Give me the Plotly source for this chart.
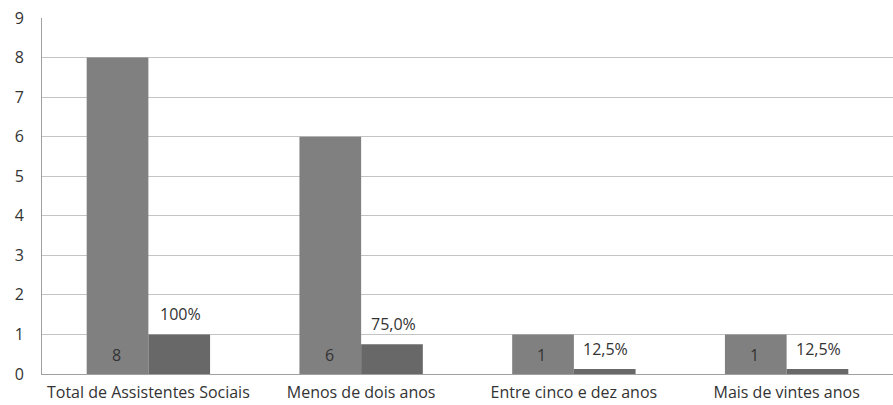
import plotly.graph_objects as go

categories = ["Total de Assistentes Sociais", "Menos de dois anos", "Entre cinco e dez anos", "Mais de vintes anos"]
counts = [8, 6, 1, 1]
proportions = [1.0, 0.75, 0.125, 0.125]
pct_labels = ["100%", "75,0%", "12,5%", "12,5%"]
y_ticks = [0, 1, 2, 3, 4, 5, 6, 7, 8, 9]

FONT = "'Open Sans', sans-serif"
TXT = "#333333"

fig = go.Figure()
fig.add_trace(go.Bar(x=categories, y=counts, marker=dict(color="#808080", line=dict(width=0)),
                     name="N", showlegend=False))
fig.add_trace(go.Bar(x=categories, y=proportions, marker=dict(color="#686868", line=dict(width=0)),
                     name="%", showlegend=False))

for c, v in zip(categories, counts):
    fig.add_annotation(x=c, y=0, text=str(v), showarrow=False, xshift=-32, yshift=19,
                       font=dict(family=FONT, size=16, color=TXT))
for c, v, t in zip(categories, proportions, pct_labels):
    fig.add_annotation(x=c, y=v, text=t, showarrow=False, xshift=32, yshift=20,
                       font=dict(family=FONT, size=16, color=TXT))

fig.update_layout(
    width=893, height=405,
    margin=dict(l=42, r=0, t=18, b=31),
    paper_bgcolor="white", plot_bgcolor="white",
    barmode="group", bargap=0.42, bargroupgap=0,
    font=dict(family=FONT, size=16, color=TXT),
)
fig.update_xaxes(showgrid=False, showline=True, linecolor="#a0a0a0", linewidth=1,
                 ticks="outside", ticklen=4, tickcolor="rgba(0,0,0,0)", tickfont=dict(size=16))
fig.update_yaxes(range=[0, 9], tickvals=y_ticks, showgrid=True, gridcolor="#c4c4c4", gridwidth=1,
                 showline=True, linecolor="#a0a0a0", linewidth=1, zeroline=False,
                 ticks="outside", ticklen=14, tickcolor="rgba(0,0,0,0)", tickfont=dict(size=16))

fig.write_html("out.html")
